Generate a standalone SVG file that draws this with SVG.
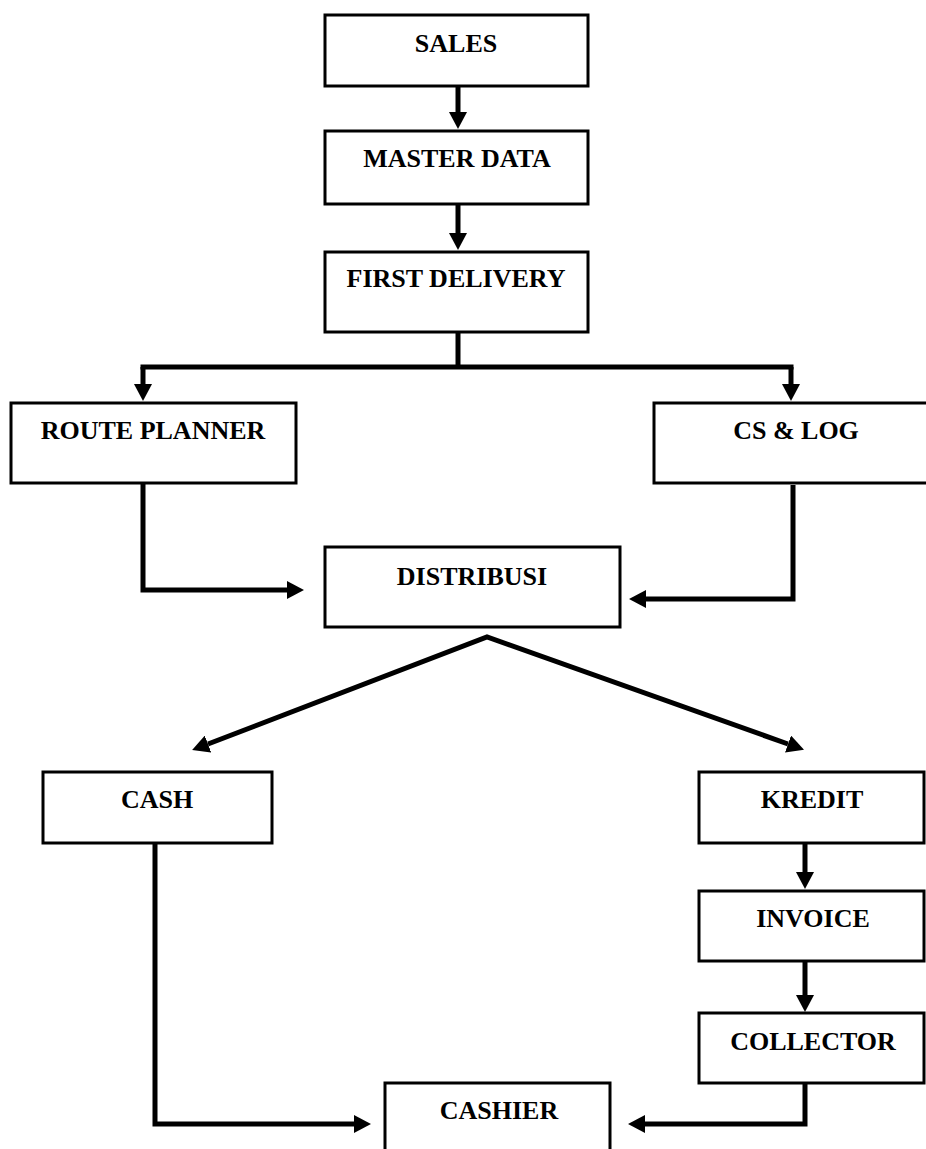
<svg xmlns="http://www.w3.org/2000/svg" width="926" height="1149" viewBox="0 0 926 1149">
<style>
.box{fill:#fff;stroke:#000;stroke-width:3}
.lbl{font-family:"Liberation Serif","Times New Roman",serif;font-weight:bold;font-size:26px;fill:#000;text-anchor:middle}
.con{fill:none;stroke:#000;stroke-width:5;stroke-linejoin:miter}
</style>
<defs>
<marker id="ah" markerUnits="userSpaceOnUse" markerWidth="18" markerHeight="18" refX="0" refY="9" orient="auto-start-reverse" viewBox="0 0 18 18">
<path d="M0,0 L17,9 L0,18 z" fill="#000"/>
</marker>
</defs>
<rect width="926" height="1149" fill="#fff"/>
<g id="connectors">
<path class="con" d="M458,87 V112" marker-end="url(#ah)"/>
<path class="con" d="M458,205 V233" marker-end="url(#ah)"/>
<path class="con" d="M458,333 V367"/>
<path class="con" d="M140.5,367 H793.5"/>
<path class="con" d="M143,367 V384" marker-end="url(#ah)"/>
<path class="con" d="M791,367 V384" marker-end="url(#ah)"/>
<path class="con" d="M143,483 V590 H287" marker-end="url(#ah)"/>
<path class="con" d="M793,485 V599 H646" marker-end="url(#ah)"/>
<path class="con" d="M208,744 L487,637 L788,744" marker-start="url(#ah)" marker-end="url(#ah)"/>
<path class="con" d="M155,843 V1124 H354" marker-end="url(#ah)"/>
<path class="con" d="M805,843 V872" marker-end="url(#ah)"/>
<path class="con" d="M805,961 V995" marker-end="url(#ah)"/>
<path class="con" d="M805,1083 V1124 H645" marker-end="url(#ah)"/>
</g>
<g id="sales"><rect class="box" x="325" y="15" width="263" height="71"/><text class="lbl" x="456" y="52">SALES</text></g>
<g id="master-data"><rect class="box" x="325" y="131" width="263" height="73"/><text class="lbl" x="457" y="167">MASTER DATA</text></g>
<g id="first-delivery"><rect class="box" x="325" y="252" width="263" height="80"/><text class="lbl" x="456" y="287">FIRST DELIVERY</text></g>
<g id="route-planner"><rect class="box" x="11" y="403" width="285" height="80"/><text class="lbl" x="153" y="439">ROUTE PLANNER</text></g>
<g id="cs-log"><rect class="box" x="654" y="403" width="290" height="80"/><text class="lbl" x="796" y="439">CS &amp; LOG</text></g>
<g id="distribusi"><rect class="box" x="325" y="547" width="295" height="80"/><text class="lbl" x="472" y="585">DISTRIBUSI</text></g>
<g id="cash"><rect class="box" x="43" y="772" width="229" height="71"/><text class="lbl" x="157" y="808">CASH</text></g>
<g id="kredit"><rect class="box" x="699" y="772" width="225" height="71"/><text class="lbl" x="812" y="808">KREDIT</text></g>
<g id="invoice"><rect class="box" x="699" y="891" width="225" height="70"/><text class="lbl" x="813" y="927">INVOICE</text></g>
<g id="collector"><rect class="box" x="699" y="1013" width="225" height="70"/><text class="lbl" x="813" y="1050">COLLECTOR</text></g>
<g id="cashier"><rect class="box" x="385" y="1083" width="225" height="100"/><text class="lbl" x="499" y="1119">CASHIER</text></g>
</svg>
